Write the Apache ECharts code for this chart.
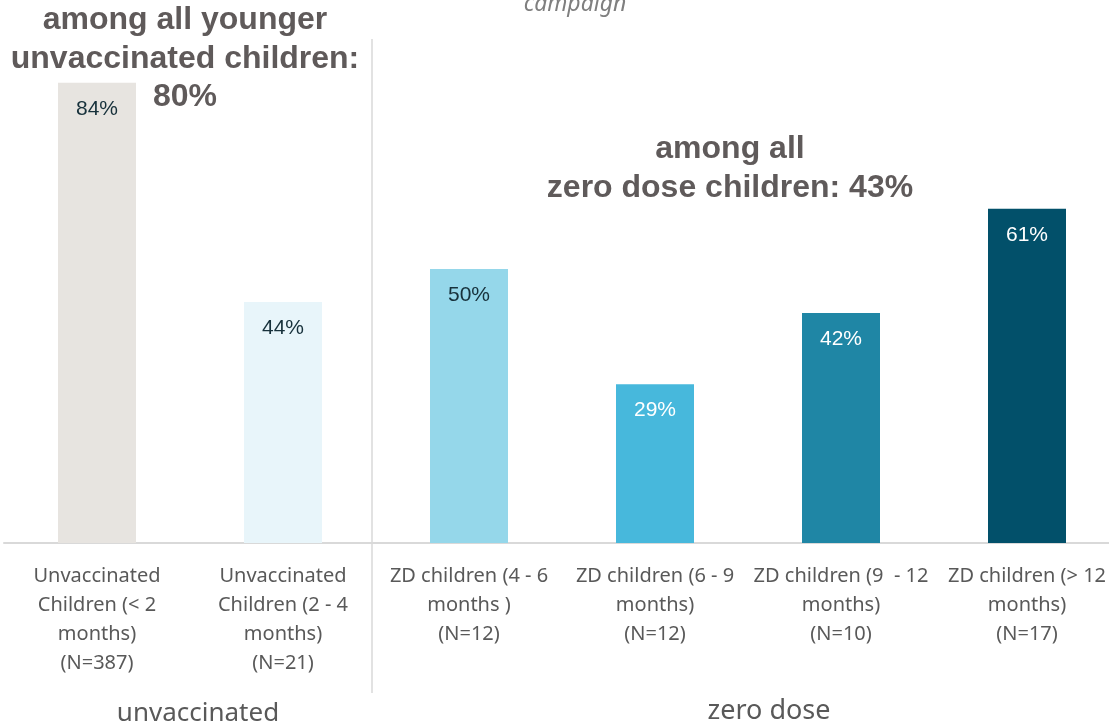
<!DOCTYPE html>
<html>
<head>
<meta charset="utf-8">
<script src="https://cdn.jsdelivr.net/npm/echarts@6/dist/echarts.min.js"></script>
<style>
  html, body { margin: 0; padding: 0; background: #fff; overflow: hidden; }
  /* the last category's slot runs past the right edge in the original */
  #chart { width: 1120px; height: 724px; }
</style>
</head>
<body>
<div id="chart"></div>
<script>
// categories and values
const categories = [
  'Unvaccinated\nChildren (< 2\nmonths)\n(N=387)',
  'Unvaccinated\nChildren (2 - 4\nmonths)\n(N=21)',
  'ZD children (4 - 6\nmonths )\n(N=12)',
  'ZD children (6 - 9\nmonths)\n(N=12)',
  'ZD children (9  - 12\nmonths)\n(N=10)',
  'ZD children (> 12\nmonths)\n(N=17)'
];
const values = [84, 44, 50, 29, 42, 61];
const groupLabels = ['unvaccinated', 'zero dose'];
const summaryLabels = [
  'among all younger\nunvaccinated children:\n80%',
  'among all\nzero dose children: 43%'
];

// bar colours, one per category
const barColors = ['#E7E4E0', '#E8F5FA', '#95D7EA', '#47B8DC', '#1F86A5', '#02506A'];
const labelColors = ['#17313B', '#17313B', '#17313B', '#FFFFFF', '#FFFFFF', '#FFFFFF'];

const chart = echarts.init(document.getElementById('chart'));

chart.setOption({
  animation: false,
  grid: {
    left: 4,
    width: 1116,
    top: 50,
    bottom: 181
  },
  xAxis: {
    type: 'category',
    data: categories,
    axisLine: { lineStyle: { color: '#D9D9D9', width: 2 } },
    axisTick: { show: false },
    axisLabel: {
      interval: 0,
      margin: 19,
      color: '#595959',
      fontFamily: 'Noto Sans',
      fontSize: 20,
      lineHeight: 29
    }
  },
  yAxis: {
    type: 'value',
    min: 0,
    max: 90,
    show: false,
    splitLine: { show: false }
  },
  series: [{
    type: 'bar',
    barWidth: 78,
    data: values.map((v, i) => ({
      value: v,
      itemStyle: { color: barColors[i] },
      label: { color: labelColors[i] }
    })),
    label: {
      show: true,
      position: 'insideTop',
      distance: 16,
      fontFamily: 'Liberation Sans',
      fontSize: 21,
      formatter: '{c}%'
    }
  }],
  graphic: [
    // divider between the two groups
    {
      type: 'line',
      shape: { x1: 372, y1: 39, x2: 372, y2: 693 },
      style: { stroke: '#D9D9D9', lineWidth: 1.5 }
    },
    {
      type: 'text',
      x: 198, y: 714,
      style: {
        text: groupLabels[0],
        fill: '#595959',
        font: '26px "Noto Sans"',
        align: 'center',
        verticalAlign: 'middle'
      }
    },
    {
      type: 'text',
      x: 769, y: 711,
      style: {
        text: groupLabels[1],
        fill: '#595959',
        font: '27px "Noto Sans"',
        align: 'center',
        verticalAlign: 'middle'
      }
    },
    {
      type: 'text',
      x: 185, y: 1,
      style: {
        text: summaryLabels[0],
        fill: '#5F5A5A',
        font: 'bold 32px "Liberation Sans"',
        lineHeight: 38.5,
        align: 'center',
        verticalAlign: 'top'
      }
    },
    {
      type: 'text',
      x: 730, y: 130,
      style: {
        text: summaryLabels[1],
        fill: '#5F5A5A',
        font: 'bold 32px "Liberation Sans"',
        lineHeight: 38.5,
        align: 'center',
        verticalAlign: 'top'
      }
    },
    {
      type: 'text',
      x: 575, y: 4,
      style: {
        text: 'campaign',
        fill: '#7F7F7F',
        font: 'italic 23px "Noto Sans"',
        align: 'center',
        verticalAlign: 'middle'
      }
    }
  ]
});
</script>
</body>
</html>
